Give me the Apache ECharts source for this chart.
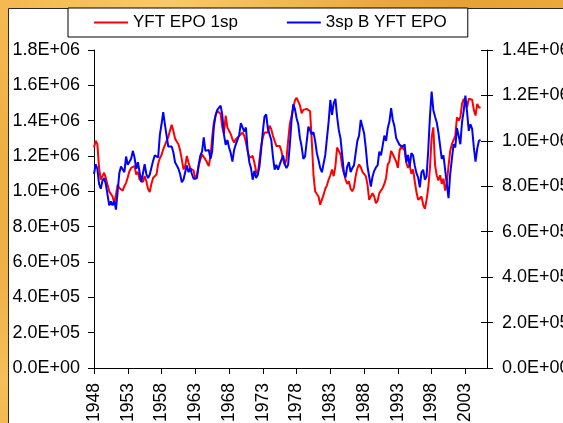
<!DOCTYPE html>
<html>
<head>
<meta charset="utf-8">
<script src="https://cdn.jsdelivr.net/npm/echarts@6/dist/echarts.min.js"></script>
<style>
  html, body { margin: 0; padding: 0; }
  body {
    width: 563px; height: 423px; overflow: hidden;
    background:
      radial-gradient(ellipse at 30% 0%, rgba(255,214,120,0.75), rgba(255,214,120,0) 55%),
      radial-gradient(ellipse at 0% 90%, rgba(250,200,100,0.8), rgba(250,200,100,0) 45%),
      linear-gradient(135deg, #eeaa3a 0%, #e39a2c 40%, #f0b448 70%, #e29a2e 100%);
  }
  #chart { width: 563px; height: 423px; }
</style>
</head>
<body>
<div id="chart"></div>
<script>
// Quarterly biomass series, 1948 Q1 onward (values in thousands)
const startYear = 1948;
const stepYears = 0.25;
const yearTicks = [1948, 1953, 1958, 1963, 1968, 1973, 1978, 1983, 1988, 1993, 1998, 2003];

const seriesNames = ['YFT EPO 1sp', '3sp B YFT EPO'];

const yftEpo1sp = [
  1248, 1286, 1267, 1133, 1067, 1086, 1105, 1076, 1038, 1000,
  1010, 971, 933, 981, 1038, 1019, 1029, 1004, 1029, 1048,
  1080, 1114, 1133, 1124, 1143, 1095, 1110, 1067, 1072, 1053,
  1086, 1057, 1015, 996, 1042, 1076, 1069, 1095, 1156, 1187,
  1206, 1238, 1261, 1286, 1309, 1343, 1377, 1343, 1299, 1282,
  1267, 1232, 1181, 1124, 1143, 1200, 1162, 1130, 1124, 1118,
  1067, 1095, 1143, 1181, 1210, 1200, 1181, 1162, 1143, 1200,
  1305, 1390, 1429, 1457, 1467, 1438, 1362, 1324, 1429, 1362,
  1343, 1324, 1295, 1276, 1295, 1305, 1314, 1305, 1333, 1314,
  1276, 1229, 1190, 1181, 1200, 1162, 1114, 1095, 1105, 1257,
  1305, 1333, 1324, 1333, 1371, 1352, 1314, 1286, 1257, 1267,
  1257, 1229, 1181, 1152, 1181, 1286, 1381,
  1381, 1467, 1514, 1530, 1530, 1486, 1442, 1461, 1457, 1467, 1476, 1453,
  1286, 1095, 1000, 985, 971, 924, 914, 981, 1015, 1034,
  1067, 1091, 1124, 1086, 1143, 1248, 1248, 1210, 1143, 1105,
  1067, 1042, 1057, 1015, 1000, 1023, 1086, 1130, 1152, 1137,
  1110, 1099, 1086, 1038, 952, 952, 990, 971, 933, 947,
  990, 1000, 1019, 1042, 1076, 1152, 1168, 1229, 1210, 1219,
  1168, 1133, 1229, 1257, 1248, 1232, 1162, 1133, 1149, 1099,
  1124, 1057, 996, 952, 947, 971, 924, 901, 952, 1019,
  1133, 1305, 1362, 1152, 1091, 1061, 1091, 1042, 1072, 1004,
  1048, 1143, 1229, 1267, 1276, 1314, 1419, 1400, 1419, 1495,
  1524, 1495, 1476, 1524, 1533, 1518, 1461, 1429, 1495, 1476, 1472
];

const yftEpo3spB = [
  854, 897, 877, 810, 789, 824, 836, 810, 763, 716,
  733, 716, 736, 697, 777, 858, 887, 883, 862, 931,
  895, 897, 921, 956, 927, 877, 906, 902, 818, 810,
  897, 854, 836, 851, 854, 912, 936, 941, 927, 1026,
  1073, 1126, 1073, 1023, 975, 971, 975, 950, 906, 892,
  877, 854, 818, 829, 862, 892, 862, 880, 854, 833,
  833, 836, 895, 936, 953, 1015, 956, 953, 960, 921,
  953, 1063, 1111, 1136, 1132, 1155, 1114, 1026, 982, 1004,
  971, 946, 909, 960, 985, 1004, 1026, 1078, 1082, 1041,
  1059, 960, 906, 880, 829, 868, 836, 851, 887, 960,
  1041, 1107, 1117, 1053, 1059, 1004, 931, 873, 895, 873,
  895, 892, 936, 897, 880, 895, 982,
  1088, 1161, 1141, 1100, 1073, 1012, 975, 921, 931, 997, 1063, 1067,
  1029, 1038, 1000, 946, 916, 880, 862, 868, 938, 1012,
  1085, 1180, 1114, 1166, 1185, 1107, 1048, 1012, 938, 862,
  839, 887, 906, 862, 880, 892, 946, 1000, 1023, 1092,
  1088, 1034, 968, 887, 843, 799, 843, 868, 883, 892,
  953, 936, 979, 1023, 1000, 1056, 1085, 1144, 1092, 1063,
  1012, 1019, 982, 990, 975, 985, 906, 938, 887, 946,
  936, 892, 858, 839, 795, 862, 873, 829, 843, 960,
  1107, 1217, 1136, 1107, 1082, 1038, 979, 921, 936, 873,
  810, 748, 854, 921, 985, 971, 1056, 1023, 985, 1082,
  1132, 1199, 1126, 1044, 1073, 1053, 971, 909, 965, 1000, 1004
];

const unit = 1000;

// "1.8E+06" style tick labels
function sci(v) {
  if (v === 0) return '0.0E+00';
  const e = Math.floor(Math.log10(v) + 1e-9);
  const m = v / Math.pow(10, e);
  return m.toFixed(1) + 'E+' + (e < 10 ? '0' + e : e);
}

function toPoints(arr) {
  return arr.map((v, i) => [startYear + i * stepYears, v * unit]);
}

const FONT = '"Liberation Sans", Arial, sans-serif';
const chart = echarts.init(document.getElementById('chart'), null, { renderer: 'canvas' });

chart.setOption({
  animation: false,
  backgroundColor: 'transparent',
  textStyle: { fontFamily: FONT, color: '#000' },
  graphic: [{
    type: 'rect',
    z: -10,
    silent: true,
    shape: { x: 8.5, y: 8.5, width: 600, height: 500 },
    style: { fill: '#ffffff', stroke: '#2a2a2a', lineWidth: 1 }
  }],
  legend: {
    data: seriesNames,
    left: 68,
    top: 8,
    padding: [6, 21, 6, 26],
    itemGap: 49,
    itemWidth: 34,
    itemHeight: 2,
    icon: 'rect',
    borderColor: '#000',
    borderWidth: 1,
    backgroundColor: '#fff',
    textStyle: { fontFamily: FONT, fontSize: 17, color: '#000', padding: [0, 0, 0, 0] }
  },
  grid: { left: 94, right: 76, top: 50, bottom: 55, containLabel: false, outerBoundsMode: 'none' },
  xAxis: {
    type: 'value',
    min: 1948,
    max: 2006.2,
    axisLine: { show: true, lineStyle: { color: '#000', width: 1 } },
    axisTick: { show: true, length: 6, lineStyle: { color: '#000' }, customValues: yearTicks },
    axisLabel: {
      customValues: yearTicks,
      rotate: 90,
      margin: 15,
      fontFamily: FONT,
      fontSize: 17.5,
      color: '#000',
      formatter: v => String(Math.round(v))
    },
    splitLine: { show: false }
  },
  yAxis: [
    {
      type: 'value', position: 'left',
      min: 0, max: 1800000, interval: 200000,
      axisLine: { show: true, lineStyle: { color: '#000', width: 1 } },
      axisTick: { show: true, length: 6, lineStyle: { color: '#000' } },
      axisLabel: { fontFamily: FONT, fontSize: 18, color: '#000', margin: 14, formatter: sci },
      splitLine: { show: false }
    },
    {
      type: 'value', position: 'right',
      min: 0, max: 1400000, interval: 200000,
      axisLine: { show: true, lineStyle: { color: '#000', width: 1 } },
      axisTick: { show: true, length: 6, lineStyle: { color: '#000' } },
      axisLabel: { fontFamily: FONT, fontSize: 18, color: '#000', margin: 15, formatter: sci },
      splitLine: { show: false }
    },
    {
      // inner half of the crossing ticks on the right-hand scale
      type: 'value', position: 'right',
      min: 0, max: 1400000, interval: 200000,
      axisLine: { show: false },
      axisTick: { show: true, inside: true, length: 6, lineStyle: { color: '#000' } },
      axisLabel: { show: false },
      splitLine: { show: false }
    }
  ],
  series: [
    {
      name: seriesNames[0],
      type: 'line',
      yAxisIndex: 0,
      symbol: 'none',
      showSymbol: false,
      color: '#ff0000',
      lineStyle: { color: '#ff0000', width: 2 },
      data: toPoints(yftEpo1sp)
    },
    {
      name: seriesNames[1],
      type: 'line',
      yAxisIndex: 1,
      symbol: 'none',
      showSymbol: false,
      color: '#0000ff',
      lineStyle: { color: '#0000ff', width: 2 },
      data: toPoints(yftEpo3spB)
    }
  ]
});
</script>
</body>
</html>
